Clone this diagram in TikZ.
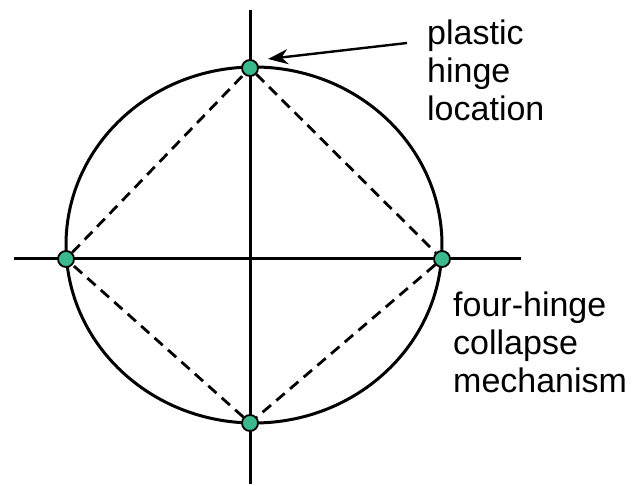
\documentclass[tikz,border=0pt]{standalone}
\usepackage{fontspec}
\setmainfont{Liberation Sans}
\usetikzlibrary{arrows.meta}
\definecolor{hingegreen}{RGB}{58,186,140}
\begin{document}
\begin{tikzpicture}[x=1pt,y=-1pt,
        hinge/.style={circle,draw=black,line width=1.8pt,fill=hingegreen,inner sep=0pt,minimum size=16pt},
        axisline/.style={line width=3pt},
        mech/.style={line width=2.8pt,dash pattern=on 11pt off 7pt},
        note/.style={font=\fontsize{34}{38}\selectfont,align=left,anchor=north west,inner sep=0pt}]
        \useasboundingbox (0,0) rectangle (633,486);
        % Draw the ring
        \draw[line width=3pt] (254,245) ellipse (188 and 178);
        % Draw the axes
        \coordinate (ytop) at (250,10);
        \coordinate (ybot) at (250,484);
        \coordinate (xlft) at (14,259);
        \coordinate (xrgt) at (521,259);
        \draw[axisline] (ytop) -- (ybot);
        \draw[axisline] (xlft) -- (xrgt);
        % Draw the hinges
        \node[hinge] (hT) at (250,68) {};
        \node[hinge] (hR) at (442,259) {};
        \node[hinge] (hB) at (250,423) {};
        \node[hinge] (hL) at (66,259) {};
        % Draw the collapse mechanism
        \draw[mech] (hT) -- (hR) -- (hB) -- (hL) -- (hT);
        % Draw the labels
        \node[note] (plastic) at (427,20) {plastic\\hinge\\location};
        \node[note] (fourhinge) at (453,292) {four-hinge\\collapse\\mechanism};
        \coordinate (tail) at (407,43);
        \coordinate (tip) at (268,59);
        \draw[line width=2.4pt,-{Stealth[length=20pt,width=15pt]}] (tail) -- (tip);
    \end{tikzpicture}
\end{document}
